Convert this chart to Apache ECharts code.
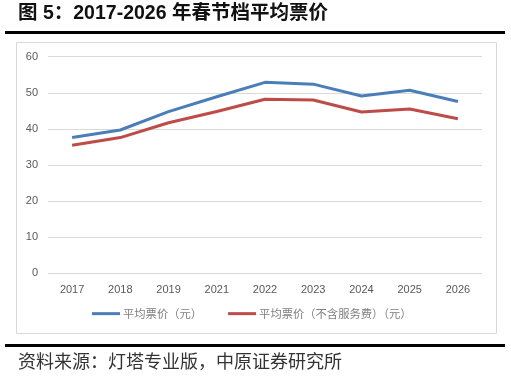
<!DOCTYPE html>
<html><head><meta charset="utf-8">
<script src="https://cdn.jsdelivr.net/npm/echarts@6/dist/echarts.min.js"></script>
<style>html,body{margin:0;padding:0;background:#fff}#c{width:511px;height:378px}</style>
</head><body><div id="c"></div>
<script>
var categories = ['2017','2018','2019','2021','2022','2023','2024','2025','2026'];
var avgPrice = [37.6, 39.7, 44.8, 48.9, 52.9, 52.4, 49.1, 50.7, 47.6];
var avgPriceNoFee = [35.5, 37.6, 41.7, 44.8, 48.2, 48.0, 44.7, 45.5, 42.8];
var seriesNames = ['平均票价（元）', '平均票价（不含服务费）（元）'];
var yTicks = [0, 10, 20, 30, 40, 50, 60];

var chart = echarts.init(document.getElementById('c'));
chart.setOption({
  animation: false,
  textStyle: {fontFamily: 'Liberation Sans, Noto Sans CJK SC'},
  graphic: [
    {type: 'text', left: 18, top: 4, style: {text: '图 5：2017-2026 年春节档平均票价', font: 'bold 19.5px "Liberation Sans", "Noto Sans CJK SC"', fill: '#111'}},
    {type: 'rect', shape: {x: 5, y: 31, width: 500, height: 3}, style: {fill: '#000'}},
    {type: 'rect', shape: {x: 16.5, y: 42.5, width: 480, height: 291}, style: {fill: 'none', stroke: '#d9d9d9', lineWidth: 1}},
    {type: 'rect', shape: {x: 5, y: 344, width: 500, height: 3}, style: {fill: '#000'}},
    {type: 'text', left: 18, top: 352, style: {text: '资料来源：灯塔专业版，中原证券研究所', font: '18px "Noto Sans CJK SC"', fill: '#333'}}
  ],
  grid: {left: 48, right: 29, top: 56.7, bottom: 104.7, containLabel: false},
  legend: {
    top: 308, left: 92, padding: 0, itemWidth: 28, itemHeight: 3, itemGap: 26,
    icon: 'rect',
    textStyle: {color: '#7f7f7f', fontSize: 11.3, fontFamily: 'Noto Sans CJK SC', padding: [0, 0, 0, -2]},
    data: seriesNames
  },
  xAxis: {
    type: 'category', data: categories, boundaryGap: true,
    axisLine: {show: false}, axisTick: {show: false},
    axisLabel: {color: '#595959', fontSize: 11, margin: 11}
  },
  yAxis: {
    type: 'value', min: yTicks[0], max: yTicks[yTicks.length - 1], interval: 10,
    axisLine: {show: false}, axisTick: {show: false},
    axisLabel: {color: '#595959', fontSize: 11, margin: 10},
    splitLine: {lineStyle: {color: '#d9d9d9', width: 1}}
  },
  series: [
    {name: seriesNames[0], type: 'line', data: avgPrice, symbol: 'none', lineStyle: {width: 3, color: '#4a7ebb'}, itemStyle: {color: '#4a7ebb'}},
    {name: seriesNames[1], type: 'line', data: avgPriceNoFee, symbol: 'none', lineStyle: {width: 3, color: '#be4b48'}, itemStyle: {color: '#be4b48'}}
  ]
});
</script></body></html>
